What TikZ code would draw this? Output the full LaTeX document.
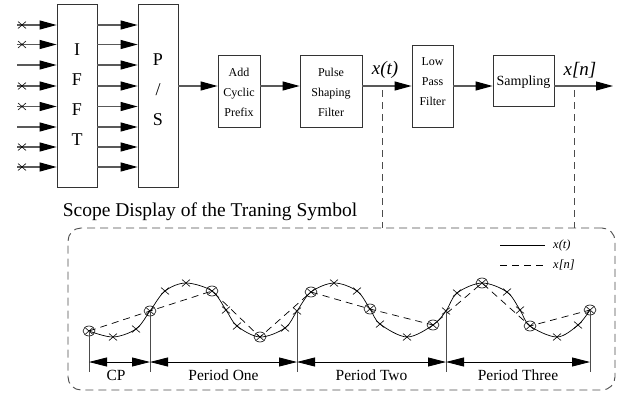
\documentclass[tikz,border=0pt]{standalone}
\usepackage{fontspec}
\setmainfont{Liberation Serif}
\usetikzlibrary{arrows.meta,calc}
\begin{document}
\begin{tikzpicture}[x=1pt,y=-1pt,
  blk/.style={draw=black!80, line width=0.8pt, inner sep=0pt},
  sig/.style={draw=black!65, line width=1.1pt, -{Triangle[length=17pt,width=9pt,color=black]}},
  tap/.style={draw=black!70, line width=0.9pt, dash pattern=on 7pt off 5pt},
  boxtxt/.style={inner sep=0pt, font=\fontsize{12}{20}\selectfont, align=center},
  bigtxt/.style={inner sep=0pt, font=\fontsize{18}{30}\selectfont, align=center},
  per/.style={draw=black, line width=0.8pt, {Triangle[length=18pt,width=9pt]}-{Triangle[length=18pt,width=9pt]}},
  tickln/.style={draw=black!70, line width=0.9pt},
  pertxt/.style={inner sep=0pt, anchor=base, font=\fontsize{15.5}{16}\selectfont},
  crossmk/.pic={\draw[line width=0.6pt] (-4,-3.5)--(4,3.5) (-4,3.5)--(4,-3.5);},
  circmk/.pic={\draw[line width=0.6pt] (0,0) ellipse[x radius=6pt, y radius=5pt] (-3.5,-3)--(3.5,3) (-3.5,3)--(3.5,-3);}
]
\useasboundingbox (0,0) rectangle (621,397);

% ---------- blocks ----------
\node[blk, minimum width=40pt, minimum height=183pt] (ifft) at (77,95.5) {};
\node[bigtxt] (iffttxt) at (77,94.5) {I\\F\\F\\T};
\node[blk, minimum width=40pt, minimum height=183pt] (ps) at (158,95.5) {};
\node[bigtxt] (pstxt) at (158,90) {P\\/\\S};
\node[blk, minimum width=42pt, minimum height=72pt] (acp) at (239,91) {};
\node[boxtxt] (acptxt) at (239,92) {Add\\Cyclic\\Prefix};
\node[blk, minimum width=62pt, minimum height=72pt] (psf) at (331,91) {};
\node[boxtxt] (psftxt) at (331,92) {Pulse\\Shaping\\Filter};
\node[blk, minimum width=41pt, minimum height=82pt] (lpf) at (432.5,86) {};
\node[boxtxt] (lpftxt) at (432.5,82) {Low\\Pass\\Filter};
\node[blk, minimum width=61pt, minimum height=51pt] (smp) at (523.5,80.5) {};
\node[inner sep=0pt, font=\fontsize{14}{14}\selectfont] (smptxt) at (523.5,82) {Sampling};

% ---------- input / parallel arrows ----------
\foreach \i/\r in {1/25,2/44.5,3/65,4/86,5/106.5,6/127,7/147,8/167}{
  \coordinate (in\i) at (17,\r);
  \draw[sig] (in\i) -- (ifft.west |- in\i);
  \draw[sig] (ifft.east |- in\i) -- (ps.west |- in\i);
}
\foreach \i in {1,2,4,5,7,8}{
  \pic at ($(in\i)+(5,0)$) {crossmk};
}

% ---------- main chain ----------
\coordinate (ml) at (0,86);
\coordinate (out) at (613,86);
\draw[sig] (ps.east |- ml) -- (acp.west |- ml);
\draw[sig] (acp.east |- ml) -- (psf.west |- ml);
\draw[sig] (psf.east |- ml) -- (lpf.west |- ml);
\draw[sig] (lpf.east |- ml) -- (smp.west |- ml);
\draw[sig] (smp.east |- ml) -- (out);
\node[inner sep=0pt, font=\fontsize{19}{19}\selectfont\itshape] (xt) at (385,70) {x(t)};
\node[inner sep=0pt, font=\fontsize{19}{19}\selectfont\itshape] (xn) at (580,70) {x[n]};

% ---------- scope ----------
\node[inner sep=0pt, font=\fontsize{19.5}{20}\selectfont] (title) at (210,212) {Scope Display of the Traning Symbol};
\node[draw=black!70, line width=0.9pt, dash pattern=on 8pt off 5pt, rounded corners=13pt,
      minimum width=547pt, minimum height=162pt, inner sep=0pt] (scope) at (341.5,309) {};
\coordinate (tapA) at (382,90);
\coordinate (tapB) at (574,90);
\draw[tap] (tapA) -- (tapA |- scope.north);
\draw[tap] (tapB) -- (tapB |- scope.north);

% legend
\coordinate (lga) at (500,245); \coordinate (lgb) at (545,245);
\coordinate (lgc) at (500,265); \coordinate (lgd) at (545,265);
\draw[line width=0.7pt] (lga) -- (lgb);
\draw[line width=0.7pt, dash pattern=on 7pt off 5pt] (lgc) -- (lgd);
\node[anchor=west, inner sep=0pt, font=\fontsize{12.5}{13}\selectfont\itshape] (lgt) at (553,245) {x(t)};
\node[anchor=west, inner sep=0pt, font=\fontsize{12.5}{13}\selectfont\itshape] (lgn) at (553,265) {x[n]};

% waveform
\draw[line width=0.7pt] plot[smooth, tension=0.55] coordinates {
 (89,331) (113,337) (136,329) (150,311) (165,291) (186,283) (212,291) (226,310) (237,326)
 (260,337) (285,328) (297,311) (311,292) (334,283) (357,291) (370,309) (380,324) (407,337)
 (433,325) (446,311) (457,293) (482,283) (507,292) (520,310) (530,326) (557,337) (578,325) (590,310)};
\draw[line width=0.7pt, dash pattern=on 7pt off 5pt] (89,331) -- (150,311) -- (212,291) -- (260,337)
 -- (311,292) -- (370,309) -- (433,325) -- (482,283) -- (530,326) -- (590,310);
\foreach \p in {(113,337),(136,329),(165,291),(186,283),(226,310),(237,326),(285,328),(297,311),
 (334,283),(357,291),(380,324),(407,337),(446,311),(457,293),(507,292),(520,310),(557,337),(578,325)}{
  \pic at \p {crossmk};
}
\foreach \p in {(89,331),(150,311),(212,291),(260,337),(311,292),(370,309),(433,325),(482,283),(530,326),(590,310)}{
  \pic at \p {circmk};
}

% period markers
\coordinate (p0) at (89,331);
\coordinate (p1) at (150,311);
\coordinate (p2) at (297,311);
\coordinate (p3) at (446,311);
\coordinate (p4) at (590,310);
\coordinate (arr) at (0,362);
\coordinate (bot) at (0,372);
\foreach \k in {0,...,4}{ \draw[tickln] (p\k) -- (p\k |- bot); }
\draw[per] (p0 |- arr) -- (p1 |- arr);
\draw[per] (p1 |- arr) -- (p2 |- arr);
\draw[per] (p2 |- arr) -- (p3 |- arr);
\draw[per] (p3 |- arr) -- (p4 |- arr);
\node[pertxt] (cp) at (116,380) {CP};
\node[pertxt] (po) at (223.5,380) {Period One};
\node[pertxt] (ptw) at (371.5,380) {Period Two};
\node[pertxt] (pth) at (518,380) {Period Three};
\end{tikzpicture}
\end{document}
